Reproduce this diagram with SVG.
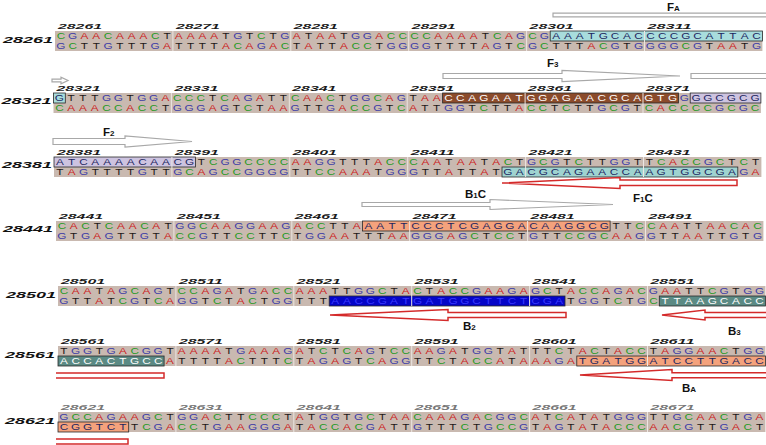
<svg xmlns="http://www.w3.org/2000/svg" width="766" height="445" viewBox="0 0 766 445">
<style>
.bg{fill:#c9b9b0}
.s{font-family:"Liberation Sans",Arial,sans-serif;font-size:9.8px;fill:#221818;text-anchor:middle}
.A{fill:#cc2222}.C{fill:#1f9a1f}.G{fill:#3c3ca6}
.n{fill:#1c2660}.w{fill:#ffffff}.b{fill:#3a3aff}
.hb{stroke:#2a2a2a;stroke-width:0.8}
.num{font-family:"Liberation Sans",Arial,sans-serif;font-style:italic;font-weight:bold;font-size:7.5px;fill:#1a1a1a}
.gr{fill:#777}
.rl{font-family:"Liberation Sans",Arial,sans-serif;font-style:italic;font-weight:bold;font-size:8.5px;fill:#111}
.sep{stroke:#ece6e2;stroke-width:1;fill:none}
.fa{fill:#fff;stroke:#a8a8a8;stroke-width:1.2}
.ra{fill:#fff;stroke:#d42a2a;stroke-width:1.5}
.lb{font-family:"Liberation Sans",Arial,sans-serif;font-weight:bold;font-size:11.5px;fill:#111}
.sub{font-size:8px}
</style>
<rect width="766" height="445" fill="#fff"/>

<g id="row1" transform="translate(55,31)">
<rect class="bg" width="707.4" height="20"/>
<rect class="hb" x="495.2" y="0" width="212.2" height="10" fill="#a8dcdc"/>
<path class="sep" d="M117.9 0v20M235.8 0v20M353.7 0v20M471.6 0v20M589.5 0v20"/>
<text class="s" transform="scale(1.2 1)" y="8.3" x="4.91 14.74 24.56 34.39 44.21 54.04 63.86 73.69 83.51 93.34 103.16 112.99 122.81 132.64 142.46 152.29 162.11 171.94 181.76 191.59 201.41 211.24 221.06 230.89 240.71 250.54 260.36 270.19 280.01 289.84 299.66 309.49 319.31 329.14 338.96 348.79 358.61 368.44 378.26 388.09 397.91 407.74 417.56 427.39 437.21 447.04 456.86 466.69 476.51 486.34 496.16 505.99 515.81 525.64 535.46 545.29 555.11 564.94 574.76 584.59"><tspan class="C">C</tspan><tspan class="G">G</tspan><tspan class="A">AA</tspan><tspan class="C">C</tspan><tspan class="A">AAA</tspan><tspan class="C">C</tspan>T<tspan class="A">AAAA</tspan>T<tspan class="G">G</tspan>T<tspan class="C">C</tspan>T<tspan class="G">G</tspan><tspan class="A">A</tspan>T<tspan class="A">AA</tspan>T<tspan class="G">GG</tspan><tspan class="A">A</tspan><tspan class="C">CCCC</tspan><tspan class="A">AAAA</tspan>T<tspan class="C">C</tspan><tspan class="A">A</tspan><tspan class="G">G</tspan><tspan class="C">C</tspan><tspan class="G">G</tspan><tspan class="n">AAATGCACCCCGCATTAC</tspan></text>
<text class="s" transform="scale(1.2 1)" y="18.2" x="4.91 14.74 24.56 34.39 44.21 54.04 63.86 73.69 83.51 93.34 103.16 112.99 122.81 132.64 142.46 152.29 162.11 171.94 181.76 191.59 201.41 211.24 221.06 230.89 240.71 250.54 260.36 270.19 280.01 289.84 299.66 309.49 319.31 329.14 338.96 348.79 358.61 368.44 378.26 388.09 397.91 407.74 417.56 427.39 437.21 447.04 456.86 466.69 476.51 486.34 496.16 505.99 515.81 525.64 535.46 545.29 555.11 564.94 574.76 584.59"><tspan class="G">G</tspan><tspan class="C">C</tspan>TT<tspan class="G">G</tspan>TTT<tspan class="G">G</tspan><tspan class="A">A</tspan>TTTT<tspan class="A">A</tspan><tspan class="C">C</tspan><tspan class="A">A</tspan><tspan class="G">G</tspan><tspan class="A">A</tspan><tspan class="C">C</tspan>T<tspan class="A">A</tspan>TT<tspan class="A">A</tspan><tspan class="C">CC</tspan>T<tspan class="G">GGGG</tspan>TTTT<tspan class="A">A</tspan><tspan class="G">G</tspan>T<tspan class="C">C</tspan><tspan class="G">G</tspan><tspan class="C">C</tspan>TTT<tspan class="A">A</tspan><tspan class="C">C</tspan><tspan class="G">G</tspan>T<tspan class="G">GGGG</tspan><tspan class="C">C</tspan><tspan class="G">G</tspan>T<tspan class="A">AA</tspan>T<tspan class="G">G</tspan></text>
<text class="num" x="3" y="-2" textLength="44" lengthAdjust="spacingAndGlyphs">28261</text>
<text class="num" x="120.9" y="-2" textLength="44" lengthAdjust="spacingAndGlyphs">28271</text>
<text class="num" x="238.8" y="-2" textLength="44" lengthAdjust="spacingAndGlyphs">28281</text>
<text class="num" x="356.7" y="-2" textLength="44" lengthAdjust="spacingAndGlyphs">28291</text>
<text class="num" x="474.6" y="-2" textLength="44" lengthAdjust="spacingAndGlyphs">28301</text>
<text class="num" x="592.5" y="-2" textLength="44" lengthAdjust="spacingAndGlyphs">28311</text>
<text class="rl" x="-52" y="12" textLength="50" lengthAdjust="spacingAndGlyphs">28261</text>
</g>

<g id="row2" transform="translate(53.5,93)">
<rect class="bg" width="707.4" height="20"/>
<rect class="hb" x="0" y="0" width="11.8" height="10" fill="#a8dcdc"/>
<rect class="hb" x="389.1" y="0" width="235.8" height="10" fill="#8b4b2b"/>
<rect class="hb" x="636.7" y="0" width="70.7" height="10" fill="#cdc3e0"/>
<path class="sep" d="M117.9 0v20M235.8 0v20M353.7 0v20M471.6 0v20M589.5 0v20"/>
<text class="s" transform="scale(1.2 1)" y="8.3" x="4.91 14.74 24.56 34.39 44.21 54.04 63.86 73.69 83.51 93.34 103.16 112.99 122.81 132.64 142.46 152.29 162.11 171.94 181.76 191.59 201.41 211.24 221.06 230.89 240.71 250.54 260.36 270.19 280.01 289.84 299.66 309.49 319.31 329.14 338.96 348.79 358.61 368.44 378.26 388.09 397.91 407.74 417.56 427.39 437.21 447.04 456.86 466.69 476.51 486.34 496.16 505.99 515.81 525.64 535.46 545.29 555.11 564.94 574.76 584.59"><tspan class="n">G</tspan>TTT<tspan class="G">GG</tspan>T<tspan class="G">GG</tspan><tspan class="A">A</tspan><tspan class="C">CCC</tspan>T<tspan class="C">C</tspan><tspan class="A">A</tspan><tspan class="G">G</tspan><tspan class="A">A</tspan>TT<tspan class="C">C</tspan><tspan class="A">AA</tspan><tspan class="C">C</tspan>T<tspan class="G">GG</tspan><tspan class="C">C</tspan><tspan class="A">A</tspan><tspan class="G">G</tspan>T<tspan class="A">AA</tspan><tspan class="w">CCAGAATGGAGAACGCAGTG</tspan><tspan class="G">G</tspan><tspan class="n">GGCGCG</tspan></text>
<text class="s" transform="scale(1.2 1)" y="18.2" x="4.91 14.74 24.56 34.39 44.21 54.04 63.86 73.69 83.51 93.34 103.16 112.99 122.81 132.64 142.46 152.29 162.11 171.94 181.76 191.59 201.41 211.24 221.06 230.89 240.71 250.54 260.36 270.19 280.01 289.84 299.66 309.49 319.31 329.14 338.96 348.79 358.61 368.44 378.26 388.09 397.91 407.74 417.56 427.39 437.21 447.04 456.86 466.69 476.51 486.34 496.16 505.99 515.81 525.64 535.46 545.29 555.11 564.94 574.76 584.59"><tspan class="C">C</tspan><tspan class="A">AAA</tspan><tspan class="C">CC</tspan><tspan class="A">A</tspan><tspan class="C">CC</tspan>T<tspan class="G">GGG</tspan><tspan class="A">A</tspan><tspan class="G">G</tspan>T<tspan class="C">C</tspan>T<tspan class="A">AA</tspan><tspan class="G">G</tspan>TT<tspan class="G">G</tspan><tspan class="A">A</tspan><tspan class="C">CC</tspan><tspan class="G">G</tspan>T<tspan class="C">C</tspan><tspan class="A">A</tspan>TT<tspan class="G">GG</tspan>T<tspan class="C">C</tspan>TT<tspan class="A">A</tspan><tspan class="C">CC</tspan>T<tspan class="C">C</tspan>TT<tspan class="G">G</tspan><tspan class="C">C</tspan><tspan class="G">G</tspan>T<tspan class="C">C</tspan><tspan class="A">A</tspan><tspan class="C">CCCC</tspan><tspan class="G">G</tspan><tspan class="C">C</tspan><tspan class="G">G</tspan><tspan class="C">C</tspan></text>
<text class="num" x="3" y="-2" textLength="44" lengthAdjust="spacingAndGlyphs">28321</text>
<text class="num" x="120.9" y="-2" textLength="44" lengthAdjust="spacingAndGlyphs">28331</text>
<text class="num" x="238.8" y="-2" textLength="44" lengthAdjust="spacingAndGlyphs">28341</text>
<text class="num" x="356.7" y="-2" textLength="44" lengthAdjust="spacingAndGlyphs">28351</text>
<text class="num" x="474.6" y="-2" textLength="44" lengthAdjust="spacingAndGlyphs">28361</text>
<text class="num" x="592.5" y="-2" textLength="44" lengthAdjust="spacingAndGlyphs">28371</text>
<text class="rl" x="-52" y="11" textLength="50" lengthAdjust="spacingAndGlyphs">28321</text>
</g>

<g id="row3" transform="translate(54,157)">
<rect class="bg" width="707.4" height="20"/>
<rect class="hb" x="0" y="0" width="141.5" height="10" fill="#cdc3e0"/>
<rect class="hb" x="448" y="10" width="235.8" height="10" fill="#9fd3d0"/>
<path class="sep" d="M117.9 0v20M235.8 0v20M353.7 0v20M471.6 0v20M589.5 0v20"/>
<text class="s" transform="scale(1.2 1)" y="8.3" x="4.91 14.74 24.56 34.39 44.21 54.04 63.86 73.69 83.51 93.34 103.16 112.99 122.81 132.64 142.46 152.29 162.11 171.94 181.76 191.59 201.41 211.24 221.06 230.89 240.71 250.54 260.36 270.19 280.01 289.84 299.66 309.49 319.31 329.14 338.96 348.79 358.61 368.44 378.26 388.09 397.91 407.74 417.56 427.39 437.21 447.04 456.86 466.69 476.51 486.34 496.16 505.99 515.81 525.64 535.46 545.29 555.11 564.94 574.76 584.59"><tspan class="n">ATCAAAACAACG</tspan>T<tspan class="C">C</tspan><tspan class="G">GG</tspan><tspan class="C">CCCC</tspan><tspan class="A">AA</tspan><tspan class="G">GG</tspan>TTT<tspan class="A">A</tspan><tspan class="C">CCC</tspan><tspan class="A">AA</tspan>T<tspan class="A">AA</tspan>T<tspan class="A">A</tspan><tspan class="C">C</tspan>T<tspan class="G">G</tspan><tspan class="C">C</tspan><tspan class="G">G</tspan>T<tspan class="C">C</tspan>TT<tspan class="G">GG</tspan>TT<tspan class="C">C</tspan><tspan class="A">A</tspan><tspan class="C">CC</tspan><tspan class="G">G</tspan><tspan class="C">C</tspan>T<tspan class="C">C</tspan>T</text>
<text class="s" transform="scale(1.2 1)" y="18.2" x="4.91 14.74 24.56 34.39 44.21 54.04 63.86 73.69 83.51 93.34 103.16 112.99 122.81 132.64 142.46 152.29 162.11 171.94 181.76 191.59 201.41 211.24 221.06 230.89 240.71 250.54 260.36 270.19 280.01 289.84 299.66 309.49 319.31 329.14 338.96 348.79 358.61 368.44 378.26 388.09 397.91 407.74 417.56 427.39 437.21 447.04 456.86 466.69 476.51 486.34 496.16 505.99 515.81 525.64 535.46 545.29 555.11 564.94 574.76 584.59">T<tspan class="A">A</tspan><tspan class="G">G</tspan>TTTT<tspan class="G">G</tspan>TT<tspan class="G">G</tspan><tspan class="C">C</tspan><tspan class="A">A</tspan><tspan class="G">G</tspan><tspan class="C">CC</tspan><tspan class="G">GGGG</tspan>TT<tspan class="C">CC</tspan><tspan class="A">AAA</tspan>T<tspan class="G">GGG</tspan>TT<tspan class="A">A</tspan>TT<tspan class="A">A</tspan>T<tspan class="n">GACGCAGAACCAAGTGGCGA</tspan><tspan class="G">G</tspan><tspan class="A">A</tspan></text>
<text class="num" x="3" y="-2" textLength="44" lengthAdjust="spacingAndGlyphs">28381</text>
<text class="num" x="120.9" y="-2" textLength="44" lengthAdjust="spacingAndGlyphs">28391</text>
<text class="num" x="238.8" y="-2" textLength="44" lengthAdjust="spacingAndGlyphs">28401</text>
<text class="num" x="356.7" y="-2" textLength="44" lengthAdjust="spacingAndGlyphs">28411</text>
<text class="num" x="474.6" y="-2" textLength="44" lengthAdjust="spacingAndGlyphs">28421</text>
<text class="num" x="592.5" y="-2" textLength="44" lengthAdjust="spacingAndGlyphs">28431</text>
<text class="rl" x="-52" y="11" textLength="50" lengthAdjust="spacingAndGlyphs">28381</text>
</g>

<g id="row4" transform="translate(56,221)">
<rect class="bg" width="707.4" height="20"/>
<rect class="hb" x="306.5" y="0" width="247.6" height="10" fill="#f4a27c"/>
<path class="sep" d="M117.9 0v20M235.8 0v20M353.7 0v20M471.6 0v20M589.5 0v20"/>
<text class="s" transform="scale(1.2 1)" y="8.3" x="4.91 14.74 24.56 34.39 44.21 54.04 63.86 73.69 83.51 93.34 103.16 112.99 122.81 132.64 142.46 152.29 162.11 171.94 181.76 191.59 201.41 211.24 221.06 230.89 240.71 250.54 260.36 270.19 280.01 289.84 299.66 309.49 319.31 329.14 338.96 348.79 358.61 368.44 378.26 388.09 397.91 407.74 417.56 427.39 437.21 447.04 456.86 466.69 476.51 486.34 496.16 505.99 515.81 525.64 535.46 545.29 555.11 564.94 574.76 584.59"><tspan class="C">C</tspan><tspan class="A">A</tspan><tspan class="C">C</tspan>T<tspan class="C">C</tspan><tspan class="A">AA</tspan><tspan class="C">C</tspan><tspan class="A">A</tspan>T<tspan class="G">GG</tspan><tspan class="C">C</tspan><tspan class="A">AA</tspan><tspan class="G">GG</tspan><tspan class="A">AA</tspan><tspan class="G">G</tspan><tspan class="A">A</tspan><tspan class="C">CC</tspan>TT<tspan class="A">A</tspan><tspan class="n">AATTCCCTCGAGGACAAGGCG</tspan>TT<tspan class="C">CC</tspan><tspan class="A">AA</tspan>TT<tspan class="A">AA</tspan><tspan class="C">C</tspan><tspan class="A">A</tspan><tspan class="C">C</tspan></text>
<text class="s" transform="scale(1.2 1)" y="18.2" x="4.91 14.74 24.56 34.39 44.21 54.04 63.86 73.69 83.51 93.34 103.16 112.99 122.81 132.64 142.46 152.29 162.11 171.94 181.76 191.59 201.41 211.24 221.06 230.89 240.71 250.54 260.36 270.19 280.01 289.84 299.66 309.49 319.31 329.14 338.96 348.79 358.61 368.44 378.26 388.09 397.91 407.74 417.56 427.39 437.21 447.04 456.86 466.69 476.51 486.34 496.16 505.99 515.81 525.64 535.46 545.29 555.11 564.94 574.76 584.59"><tspan class="G">G</tspan>T<tspan class="G">G</tspan><tspan class="A">A</tspan><tspan class="G">G</tspan>TT<tspan class="G">G</tspan>T<tspan class="A">A</tspan><tspan class="C">CC</tspan><tspan class="G">G</tspan>TT<tspan class="C">CC</tspan>TT<tspan class="C">C</tspan>T<tspan class="G">GG</tspan><tspan class="A">AA</tspan>TTT<tspan class="A">AA</tspan><tspan class="G">GGG</tspan><tspan class="A">A</tspan><tspan class="G">G</tspan><tspan class="C">C</tspan>T<tspan class="C">CC</tspan>T<tspan class="G">G</tspan>TT<tspan class="C">CC</tspan><tspan class="G">G</tspan><tspan class="C">C</tspan><tspan class="A">AA</tspan><tspan class="G">GG</tspan>TT<tspan class="A">AA</tspan>TT<tspan class="G">G</tspan>T<tspan class="G">G</tspan></text>
<text class="num" x="3" y="-2" textLength="44" lengthAdjust="spacingAndGlyphs">28441</text>
<text class="num" x="120.9" y="-2" textLength="44" lengthAdjust="spacingAndGlyphs">28451</text>
<text class="num" x="238.8" y="-2" textLength="44" lengthAdjust="spacingAndGlyphs">28461</text>
<text class="num" x="356.7" y="-2" textLength="44" lengthAdjust="spacingAndGlyphs">28471</text>
<text class="num" x="474.6" y="-2" textLength="44" lengthAdjust="spacingAndGlyphs">28481</text>
<text class="num" x="592.5" y="-2" textLength="44" lengthAdjust="spacingAndGlyphs">28491</text>
<text class="rl" x="-53" y="11" textLength="50" lengthAdjust="spacingAndGlyphs">28441</text>
</g>

<g id="row5" transform="translate(58,286)">
<rect class="bg" width="707.4" height="20"/>
<rect class="hb" x="271.2" y="10" width="235.8" height="10" fill="#0505c8"/>
<rect class="hb" x="601.3" y="10" width="106.1" height="10" fill="#5b8a84"/>
<path class="sep" d="M117.9 0v20M235.8 0v20M353.7 0v20M471.6 0v20M589.5 0v20"/>
<text class="s" transform="scale(1.2 1)" y="8.3" x="4.91 14.74 24.56 34.39 44.21 54.04 63.86 73.69 83.51 93.34 103.16 112.99 122.81 132.64 142.46 152.29 162.11 171.94 181.76 191.59 201.41 211.24 221.06 230.89 240.71 250.54 260.36 270.19 280.01 289.84 299.66 309.49 319.31 329.14 338.96 348.79 358.61 368.44 378.26 388.09 397.91 407.74 417.56 427.39 437.21 447.04 456.86 466.69 476.51 486.34 496.16 505.99 515.81 525.64 535.46 545.29 555.11 564.94 574.76 584.59"><tspan class="C">C</tspan><tspan class="A">AA</tspan>T<tspan class="A">A</tspan><tspan class="G">G</tspan><tspan class="C">C</tspan><tspan class="A">A</tspan><tspan class="G">G</tspan>T<tspan class="C">CC</tspan><tspan class="A">A</tspan><tspan class="G">G</tspan><tspan class="A">A</tspan>T<tspan class="G">G</tspan><tspan class="A">A</tspan><tspan class="C">CC</tspan><tspan class="A">AAA</tspan>TT<tspan class="G">GG</tspan><tspan class="C">C</tspan>T<tspan class="A">A</tspan><tspan class="C">C</tspan>T<tspan class="A">A</tspan><tspan class="C">CC</tspan><tspan class="G">G</tspan><tspan class="A">AA</tspan><tspan class="G">G</tspan><tspan class="A">A</tspan><tspan class="G">G</tspan><tspan class="C">C</tspan>T<tspan class="A">A</tspan><tspan class="C">CC</tspan><tspan class="A">A</tspan><tspan class="G">G</tspan><tspan class="A">A</tspan><tspan class="C">C</tspan><tspan class="G">G</tspan><tspan class="A">AA</tspan>TT<tspan class="C">C</tspan><tspan class="G">G</tspan>T<tspan class="G">GG</tspan></text>
<text class="s" transform="scale(1.2 1)" y="18.2" x="4.91 14.74 24.56 34.39 44.21 54.04 63.86 73.69 83.51 93.34 103.16 112.99 122.81 132.64 142.46 152.29 162.11 171.94 181.76 191.59 201.41 211.24 221.06 230.89 240.71 250.54 260.36 270.19 280.01 289.84 299.66 309.49 319.31 329.14 338.96 348.79 358.61 368.44 378.26 388.09 397.91 407.74 417.56 427.39 437.21 447.04 456.86 466.69 476.51 486.34 496.16 505.99 515.81 525.64 535.46 545.29 555.11 564.94 574.76 584.59"><tspan class="G">G</tspan>TT<tspan class="A">A</tspan>T<tspan class="C">C</tspan><tspan class="G">G</tspan>T<tspan class="C">C</tspan><tspan class="A">A</tspan><tspan class="G">GG</tspan>T<tspan class="C">C</tspan>T<tspan class="A">A</tspan><tspan class="C">C</tspan>T<tspan class="G">GG</tspan>TTT<tspan class="b">AACCGATGATGGCTTCTCGA</tspan>T<tspan class="G">GG</tspan>T<tspan class="C">C</tspan>T<tspan class="G">G</tspan><tspan class="C">C</tspan><tspan class="w">TTAAGCACC</tspan></text>
<text class="num" x="3" y="-2" textLength="44" lengthAdjust="spacingAndGlyphs">28501</text>
<text class="num" x="120.9" y="-2" textLength="44" lengthAdjust="spacingAndGlyphs">28511</text>
<text class="num" x="238.8" y="-2" textLength="44" lengthAdjust="spacingAndGlyphs">28521</text>
<text class="num" x="356.7" y="-2" textLength="44" lengthAdjust="spacingAndGlyphs">28531</text>
<text class="num" x="474.6" y="-2" textLength="44" lengthAdjust="spacingAndGlyphs">28541</text>
<text class="num" x="592.5" y="-2" textLength="44" lengthAdjust="spacingAndGlyphs">28551</text>
<text class="rl" x="-52" y="12" textLength="50" lengthAdjust="spacingAndGlyphs">28501</text>
</g>

<g id="row6" transform="translate(58,346)">
<rect class="bg" width="707.4" height="20"/>
<rect class="hb" x="0" y="10" width="106.1" height="10" fill="#5b8a84"/>
<rect class="hb" x="518.8" y="10" width="188.6" height="10" fill="#f4a27c"/>
<path class="sep" d="M117.9 0v20M235.8 0v20M353.7 0v20M471.6 0v20M589.5 0v20"/>
<text class="s" transform="scale(1.2 1)" y="8.3" x="4.91 14.74 24.56 34.39 44.21 54.04 63.86 73.69 83.51 93.34 103.16 112.99 122.81 132.64 142.46 152.29 162.11 171.94 181.76 191.59 201.41 211.24 221.06 230.89 240.71 250.54 260.36 270.19 280.01 289.84 299.66 309.49 319.31 329.14 338.96 348.79 358.61 368.44 378.26 388.09 397.91 407.74 417.56 427.39 437.21 447.04 456.86 466.69 476.51 486.34 496.16 505.99 515.81 525.64 535.46 545.29 555.11 564.94 574.76 584.59">T<tspan class="G">GG</tspan>T<tspan class="G">G</tspan><tspan class="A">A</tspan><tspan class="C">C</tspan><tspan class="G">GG</tspan>T<tspan class="A">AAAA</tspan>T<tspan class="G">G</tspan><tspan class="A">AAA</tspan><tspan class="G">G</tspan><tspan class="A">A</tspan>T<tspan class="C">C</tspan>T<tspan class="C">C</tspan><tspan class="A">A</tspan><tspan class="G">G</tspan>T<tspan class="C">CC</tspan><tspan class="A">AA</tspan><tspan class="G">G</tspan><tspan class="A">A</tspan>T<tspan class="G">GG</tspan>T<tspan class="A">A</tspan>TTT<tspan class="C">C</tspan>T<tspan class="A">A</tspan><tspan class="C">C</tspan>T<tspan class="A">A</tspan><tspan class="C">CC</tspan>T<tspan class="A">A</tspan><tspan class="G">GG</tspan><tspan class="A">AA</tspan><tspan class="C">C</tspan>T<tspan class="G">GG</tspan></text>
<text class="s" transform="scale(1.2 1)" y="18.2" x="4.91 14.74 24.56 34.39 44.21 54.04 63.86 73.69 83.51 93.34 103.16 112.99 122.81 132.64 142.46 152.29 162.11 171.94 181.76 191.59 201.41 211.24 221.06 230.89 240.71 250.54 260.36 270.19 280.01 289.84 299.66 309.49 319.31 329.14 338.96 348.79 358.61 368.44 378.26 388.09 397.91 407.74 417.56 427.39 437.21 447.04 456.86 466.69 476.51 486.34 496.16 505.99 515.81 525.64 535.46 545.29 555.11 564.94 574.76 584.59"><tspan class="w">ACCACTGCC</tspan><tspan class="A">A</tspan>TTTT<tspan class="A">A</tspan><tspan class="C">C</tspan>TTT<tspan class="C">C</tspan>T<tspan class="A">A</tspan><tspan class="G">G</tspan><tspan class="A">A</tspan><tspan class="G">G</tspan>T<tspan class="C">C</tspan><tspan class="A">A</tspan><tspan class="G">GG</tspan>TT<tspan class="C">C</tspan>T<tspan class="A">A</tspan><tspan class="C">CC</tspan><tspan class="A">A</tspan>T<tspan class="A">AAA</tspan><tspan class="G">G</tspan><tspan class="A">A</tspan><tspan class="n">TGATGGATCCTTGACC</tspan></text>
<text class="num" x="3" y="-2" textLength="44" lengthAdjust="spacingAndGlyphs">28561</text>
<text class="num" x="120.9" y="-2" textLength="44" lengthAdjust="spacingAndGlyphs">28571</text>
<text class="num" x="238.8" y="-2" textLength="44" lengthAdjust="spacingAndGlyphs">28581</text>
<text class="num" x="356.7" y="-2" textLength="44" lengthAdjust="spacingAndGlyphs">28591</text>
<text class="num" x="474.6" y="-2" textLength="44" lengthAdjust="spacingAndGlyphs">28601</text>
<text class="num" x="592.5" y="-2" textLength="44" lengthAdjust="spacingAndGlyphs">28611</text>
<text class="rl" x="-53" y="12" textLength="50" lengthAdjust="spacingAndGlyphs">28561</text>
</g>

<g id="row7" transform="translate(58,412)">
<rect class="bg" width="707.4" height="20"/>
<rect class="hb" x="0" y="10" width="70.7" height="10" fill="#f4a27c"/>
<path class="sep" d="M117.9 0v20M235.8 0v20M353.7 0v20M471.6 0v20M589.5 0v20"/>
<text class="s" transform="scale(1.2 1)" y="8.3" x="4.91 14.74 24.56 34.39 44.21 54.04 63.86 73.69 83.51 93.34 103.16 112.99 122.81 132.64 142.46 152.29 162.11 171.94 181.76 191.59 201.41 211.24 221.06 230.89 240.71 250.54 260.36 270.19 280.01 289.84 299.66 309.49 319.31 329.14 338.96 348.79 358.61 368.44 378.26 388.09 397.91 407.74 417.56 427.39 437.21 447.04 456.86 466.69 476.51 486.34 496.16 505.99 515.81 525.64 535.46 545.29 555.11 564.94 574.76 584.59"><tspan class="G">G</tspan><tspan class="C">CC</tspan><tspan class="A">A</tspan><tspan class="G">G</tspan><tspan class="A">AA</tspan><tspan class="G">G</tspan><tspan class="C">C</tspan>T<tspan class="G">GG</tspan><tspan class="A">A</tspan><tspan class="C">C</tspan>TT<tspan class="C">CCC</tspan>T<tspan class="A">A</tspan>T<tspan class="G">GG</tspan>T<tspan class="G">G</tspan><tspan class="C">C</tspan>T<tspan class="A">AA</tspan><tspan class="C">C</tspan><tspan class="A">AAA</tspan><tspan class="G">G</tspan><tspan class="A">A</tspan><tspan class="C">C</tspan><tspan class="G">GG</tspan><tspan class="C">C</tspan><tspan class="A">A</tspan>T<tspan class="C">C</tspan><tspan class="A">A</tspan>T<tspan class="A">A</tspan>T<tspan class="G">GGG</tspan>TT<tspan class="G">G</tspan><tspan class="C">C</tspan><tspan class="A">AA</tspan><tspan class="C">C</tspan>T<tspan class="G">G</tspan><tspan class="A">A</tspan></text>
<text class="s" transform="scale(1.2 1)" y="18.2" x="4.91 14.74 24.56 34.39 44.21 54.04 63.86 73.69 83.51 93.34 103.16 112.99 122.81 132.64 142.46 152.29 162.11 171.94 181.76 191.59 201.41 211.24 221.06 230.89 240.71 250.54 260.36 270.19 280.01 289.84 299.66 309.49 319.31 329.14 338.96 348.79 358.61 368.44 378.26 388.09 397.91 407.74 417.56 427.39 437.21 447.04 456.86 466.69 476.51 486.34 496.16 505.99 515.81 525.64 535.46 545.29 555.11 564.94 574.76 584.59"><tspan class="n">CGGTCT</tspan>T<tspan class="C">C</tspan><tspan class="G">G</tspan><tspan class="A">A</tspan><tspan class="C">CC</tspan>T<tspan class="G">G</tspan><tspan class="A">AA</tspan><tspan class="G">GGG</tspan><tspan class="A">A</tspan>T<tspan class="A">A</tspan><tspan class="C">CC</tspan><tspan class="A">A</tspan><tspan class="C">C</tspan><tspan class="G">G</tspan><tspan class="A">A</tspan>TT<tspan class="G">G</tspan>TTT<tspan class="C">C</tspan>T<tspan class="G">G</tspan><tspan class="C">CC</tspan><tspan class="G">G</tspan>T<tspan class="A">A</tspan><tspan class="G">G</tspan>T<tspan class="A">A</tspan>T<tspan class="A">A</tspan><tspan class="C">CCC</tspan><tspan class="A">AA</tspan><tspan class="C">C</tspan><tspan class="G">G</tspan>TT<tspan class="G">G</tspan><tspan class="A">A</tspan><tspan class="C">C</tspan>T</text>
<text class="num gr" x="3" y="-2" textLength="44" lengthAdjust="spacingAndGlyphs">28621</text>
<text class="num gr" x="120.9" y="-2" textLength="44" lengthAdjust="spacingAndGlyphs">28631</text>
<text class="num gr" x="238.8" y="-2" textLength="44" lengthAdjust="spacingAndGlyphs">28641</text>
<text class="num gr" x="356.7" y="-2" textLength="44" lengthAdjust="spacingAndGlyphs">28651</text>
<text class="num gr" x="474.6" y="-2" textLength="44" lengthAdjust="spacingAndGlyphs">28661</text>
<text class="num gr" x="592.5" y="-2" textLength="44" lengthAdjust="spacingAndGlyphs">28671</text>
<text class="rl" x="-53" y="12" textLength="50" lengthAdjust="spacingAndGlyphs">28621</text>
</g>

<g id="connectors">
<g id="FA">
<path class="fa" d="M553 13.2H770V16.8H553Z"/>
<path class="fa" d="M52 79.2H61V77.3L68 80.5L61 83.7V81.8H52Z"/>
<text class="lb" x="667" y="11">F<tspan class="sub">A</tspan></text>
</g>
<g id="F3">
<path class="fa" d="M443 73.5H562V70.5L680 76L562 81.5V78.5H443Z"/>
<text class="lb" x="547" y="66.5">F<tspan class="sub">3</tspan></text>
</g>
<g id="F2">
<path class="fa" d="M770 73.5H691V78.5H770"/>
<path class="fa" d="M53 138.5H125V136L192 141.5L125 147V144.5H53Z"/>
<text class="lb" x="103" y="135.5">F<tspan class="sub">2</tspan></text>
</g>
<g id="F1C">
<path class="ra" d="M502 183L620 177.5V180H737V185.5H620V188.5Z"/>
<text class="lb" x="633" y="201.5">F<tspan class="sub">1</tspan>C</text>
</g>
<g id="B1C">
<path class="fa" d="M362 202.5H490V199.5L613 204.5L490 209.5V206.5H362Z"/>
<text class="lb" x="465" y="198">B<tspan class="sub">1</tspan>C</text>
</g>
<g id="B2">
<path class="ra" d="M330 315L448 309.5V312.5H566V317.5H448V320.5Z"/>
<text class="lb" x="463" y="330">B<tspan class="sub">2</tspan></text>
</g>
<g id="B3">
<path class="ra" d="M770 312.5H705V310L662 315L705 320V317.5H770"/>
<path class="ra" d="M56 373H164V378H56"/>
<text class="lb" x="728" y="335">B<tspan class="sub">3</tspan></text>
</g>
<g id="BA">
<path class="ra" d="M770 372.7H672V369.5L580 375L672 380.5V377.7H770"/>
<path class="ra" d="M56 439H128V444H56"/>
<text class="lb" x="682" y="391.5">B<tspan class="sub">A</tspan></text>
</g>
</g>
</svg>
